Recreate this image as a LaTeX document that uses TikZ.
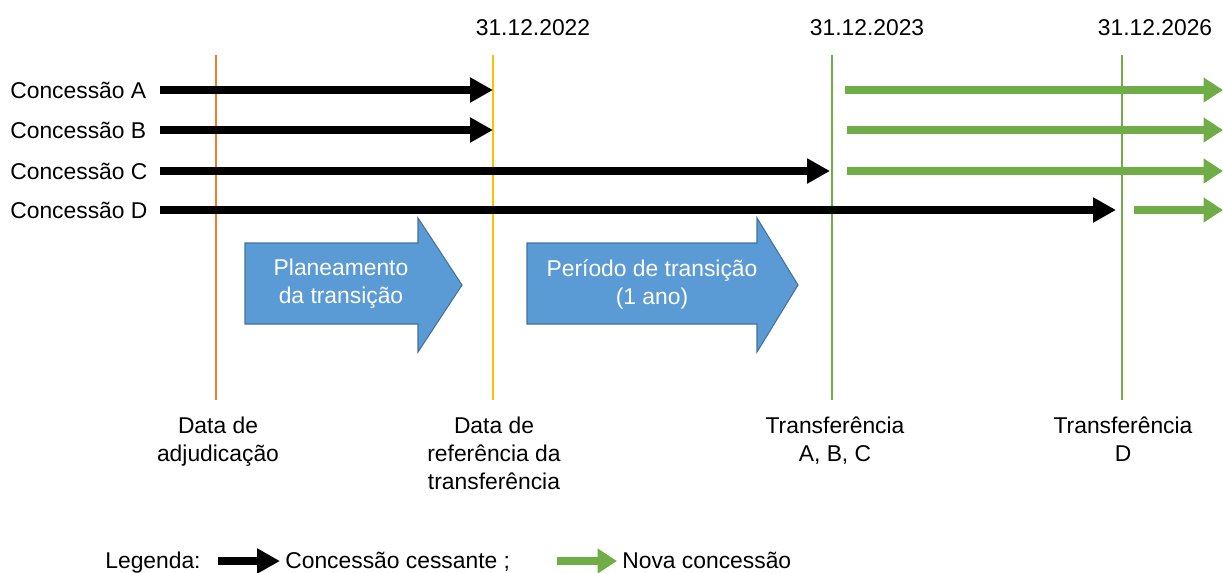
\documentclass[tikz,border=0pt]{standalone}
\usepackage{fontspec}
\setmainfont{Liberation Sans}
\usetikzlibrary{arrows.meta}
\definecolor{laranja}{HTML}{ED7D31}
\definecolor{amarelo}{HTML}{FFC000}
\definecolor{verde}{HTML}{70AD47}
\definecolor{azul}{HTML}{5B9BD5}
\definecolor{azulborda}{HTML}{41719C}
\tikzset{
  cessante/.style={line width=4.3pt,-{Triangle[length=13pt,width=13.5pt]}},
  nova/.style={cessante,draw=verde,-{Triangle[length=11pt,width=13.5pt,fill=verde]}},
  marco/.style={line width=1.2pt},
  fase/.style={fill=azul,draw=azulborda,line width=0.6pt},
  rotulo/.style={inner sep=0pt,align=center,anchor=north}
}
\begin{document}
\begin{tikzpicture}[x=0.02cm,y=-0.02cm,font=\fontsize{13}{15.9}\selectfont]
    \useasboundingbox (0,0) rectangle (1223,572);
    % marcos
    \foreach \nome/\x/\cor in {adj/216/laranja, ref/493/amarelo, abc/832/verde, d/1122/verde} {
        \coordinate (\nome top) at (\x,55);
        \coordinate (\nome bot) at (\x,400);
        \draw[marco,\cor] (\nome top) -- (\nome bot);
    }
    \node[anchor=base] (d2022) at (533,35) {31.12.2022};
    \node[anchor=base] (d2023) at (867,35) {31.12.2023};
    \node[anchor=base] (d2026) at (1155,35) {31.12.2026};
    % concessoes
    \foreach \r/\y/\fim in {A/90/493, B/130/493, C/171/830, D/210/1116} {
        \node[anchor=base west,inner sep=0pt] (c\r) at (10,\y+8) {Concessão \r};
        \coordinate (ini\r) at (160,\y);
        \coordinate (fim\r) at (\fim,\y);
        \draw[cessante] (ini\r) -- (fim\r);
    }
    \foreach \r/\y/\ini in {A/90/845, B/130/847, C/171/847, D/210/1134} {
        \coordinate (nini\r) at (\ini,\y);
        \coordinate (nfim\r) at (1223,\y);
        \draw[nova] (nini\r) -- (nfim\r);
    }
    % fases
    \draw[fase] (245,243) -- (418,243) -- (418,218) -- (462,285) -- (418,352) -- (418,324) -- (245,324) -- cycle;
    \node[align=center,text=white] (plan) at (341,284) {Planeamento\\da transição};
    \draw[fase] (527,243) -- (757,243) -- (757,218) -- (798,285) -- (757,352) -- (757,324) -- (527,324) -- cycle;
    \node[align=center,text=white] (trans) at (652,284) {Período de transição\\(1 ano)};
    % rotulos
    \node[rotulo] (ladj) at (218,417) {Data de\\adjudicação};
    \node[rotulo] (lref) at (494,417) {Data de\\referência da\\transferência};
    \node[rotulo] (labc) at (835,417) {Transferência\\A, B, C};
    \node[rotulo] (ld) at (1123,417) {Transferência\\D};
    % legenda
    \node[anchor=base west,inner sep=0pt] (leg) at (105,568) {Legenda:};
    \coordinate (lini1) at (218,561);
    \coordinate (lfim1) at (280,561);
    \draw[cessante] (lini1) -- (lfim1);
    \node[anchor=base west,inner sep=0pt] (lces) at (285,568) {Concessão cessante ;};
    \coordinate (lini2) at (557,561);
    \coordinate (lfim2) at (617,561);
    \draw[nova] (lini2) -- (lfim2);
    \node[anchor=base west,inner sep=0pt] (lnova) at (622,568) {Nova concessão};
\end{tikzpicture}
\end{document}
